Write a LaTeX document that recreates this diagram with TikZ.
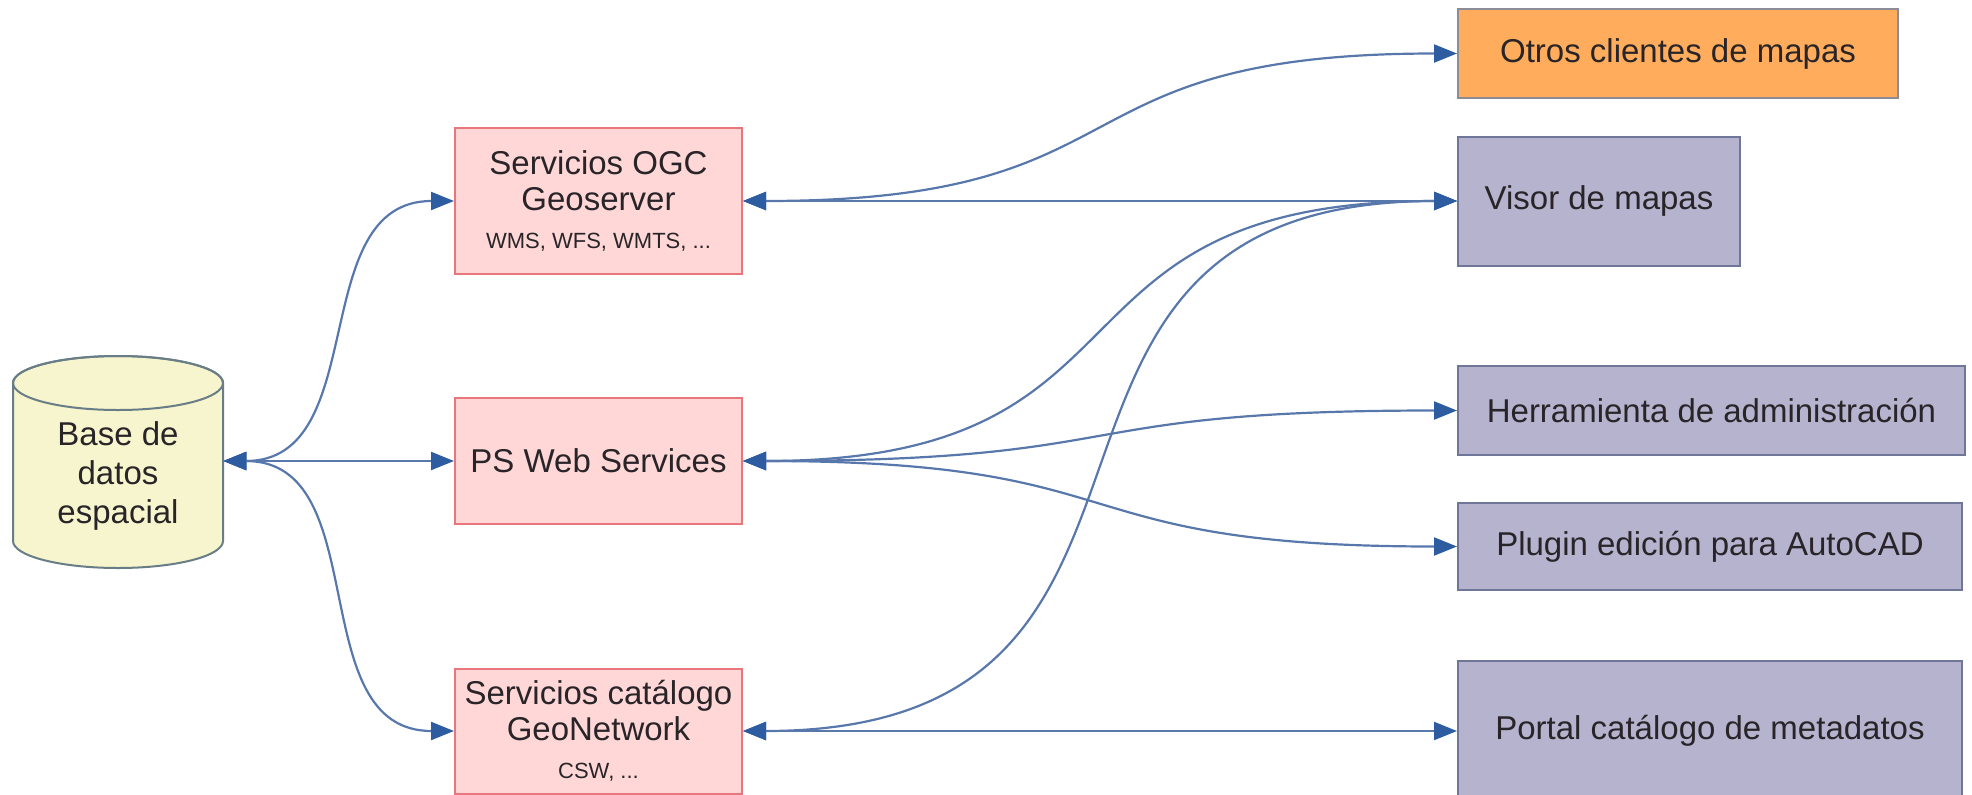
\documentclass[tikz,border=0pt]{standalone}
\usepackage{fontspec}
\setmainfont{Liberation Sans}
\usetikzlibrary{arrows.meta}

\definecolor{linkblue}{RGB}{88,120,172}
\definecolor{tipblue}{RGB}{45,92,160}
\definecolor{svcfill}{RGB}{255,215,215}
\definecolor{svcdraw}{RGB}{232,118,122}
\definecolor{cltfill}{RGB}{181,179,206}
\definecolor{cltdraw}{RGB}{112,118,152}
\definecolor{othfill}{RGB}{255,173,92}
\definecolor{othdraw}{RGB}{140,140,150}
\definecolor{dbfill}{RGB}{246,245,205}
\definecolor{dbdraw}{RGB}{105,125,135}
\definecolor{txt}{RGB}{40,36,40}

\newcommand{\bigtxt}{\fontsize{16.5}{18}\selectfont}
\newcommand{\dbtxt}{\fontsize{16.5}{19.5}\selectfont}
\newcommand{\smalltxt}{\fontsize{11}{12}\selectfont}

\tikzset{
    svcbox/.style={draw=svcdraw, fill=svcfill, line width=1pt, minimum width=143.5pt,
        align=center, text=txt, font=\bigtxt, inner sep=2pt},
    cltbox/.style={draw=cltdraw, fill=cltfill, line width=1pt, align=center, text=txt, font=\bigtxt},
    othbox/.style={cltbox, draw=othdraw, fill=othfill},
    link/.style={draw=linkblue, line width=1.1pt, looseness=1.45,
        >={Triangle[length=11.5pt,width=9pt,color=tipblue]}, <->},
}

\begin{document}
\begin{tikzpicture}[x=0.5pt,y=-0.5pt]
        \useasboundingbox (0,0) rectangle (1972,794);
        % base de datos
        \draw [dbdraw, fill=dbfill, line width=1pt] (13,383) -- (13,541)
            arc [start angle=180, end angle=360, x radius=52.5pt, y radius=13.5pt] -- (223,383)
            arc [start angle=0, end angle=180, x radius=52.5pt, y radius=13.5pt] -- cycle;
        \draw [dbdraw, line width=1pt] (118,383) ellipse [x radius=52.5pt, y radius=13.5pt];
        \node [minimum width=105pt, minimum height=106pt, inner sep=0pt] (db) at (118,461) {};
        \node [align=center, text=txt, font=\dbtxt] (dbtext) at (118,476) {Base de\\datos\\espacial};
        % servicios
        \node [svcbox, minimum height=73pt] (ogc) at (598.5,201) {Servicios OGC\\Geoserver\\[1pt]{\smalltxt WMS, WFS, WMTS, ...}};
        \node [svcbox, minimum height=63pt] (ps) at (598.5,461) {PS Web Services};
        \node [svcbox, minimum height=62.5pt] (cat) at (598.5,731) {Servicios catálogo\\GeoNetwork\\[1pt]{\smalltxt CSW, ...}};
        % clientes
        \node [othbox, minimum width=220pt, minimum height=44.5pt] (otros) at (1678,53.5) {Otros clientes de mapas};
        \node [cltbox, minimum width=141pt, minimum height=64.5pt] (visor) at (1599,201) {Visor de mapas};
        \node [cltbox, minimum width=253.5pt, minimum height=44.5pt] (admin) at (1711.5,410.5) {Herramienta de administración};
        \node [cltbox, minimum width=252pt, minimum height=43.5pt] (autocad) at (1710,546.5) {Plugin edición para AutoCAD};
        \node [cltbox, minimum width=252pt, minimum height=70pt] (portal) at (1710,731) {Portal catálogo de metadatos};
        % conexiones
        \draw [link, looseness=1.1] (db.east) to [out=0,in=180] (ogc.west);
        \draw [link] (db.east) -- (ps.west);
        \draw [link, looseness=1.1] (db.east) to [out=0,in=180] (cat.west);
        \draw [link] (ogc.east) to [out=0,in=180] (otros.west);
        \draw [link] (ogc.east) -- (visor.west);
        \draw [link] (ps.east) to [out=0,in=180] (visor.west);
        \draw [link] (ps.east) to [out=0,in=180] (admin.west);
        \draw [link] (ps.east) to [out=0,in=180] (autocad.west);
        \draw [link] (cat.east) to [out=0,in=180] (visor.west);
        \draw [link] (cat.east) -- (portal.west);
\end{tikzpicture}
\end{document}
